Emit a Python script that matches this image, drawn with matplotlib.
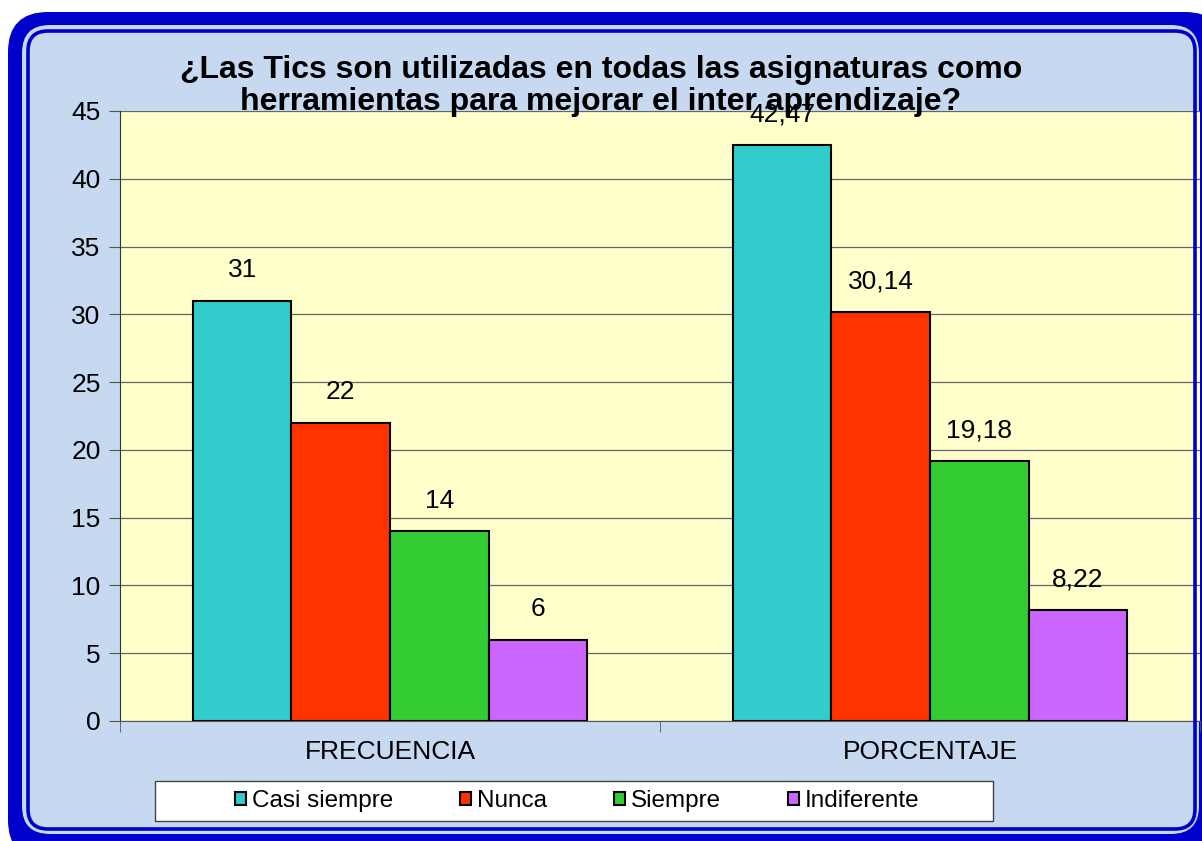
import numpy as np
import matplotlib
matplotlib.use('Agg')
import matplotlib.pyplot as plt
from matplotlib.patches import FancyBboxPatch, Rectangle

plt.rcParams['font.family'] = ['Liberation Sans', 'DejaVu Sans']

# datos
categorias = ['FRECUENCIA', 'PORCENTAJE']
series = ['Casi siempre', 'Nunca', 'Siempre', 'Indiferente']
casi_siempre = [31, 42.47]
nunca = [22, 30.14]
siempre = [14, 19.18]
indiferente = [6, 8.22]
colores = ['#33CCCC', '#FF3300', '#33CC33', '#CC66FF']
titulo = '¿Las Tics son utilizadas en todas las asignaturas como\nherramientas para mejorar el inter aprendizaje?'

W, H = 1202, 841
fig = plt.figure(figsize=(W / 100, H / 100), dpi=100)
fig.patch.set_facecolor('white')
tr = fig.dpi_scale_trans


def caja(x0, y0, x1, y1, r, **kw):
    # coordenadas en pixeles desde arriba-izquierda
    return FancyBboxPatch((x0 / 100, (H - y1) / 100), (x1 - x0) / 100, (y1 - y0) / 100,
                          boxstyle='round,pad=0,rounding_size=%f' % (r / 100),
                          transform=tr, **kw)


fig.add_artist(caja(8, 12, 1225, 860, 40, facecolor='#0000CC', edgecolor='none', zorder=-3))
fig.add_artist(caja(22, 25, 1199, 834, 28, facecolor='#C6D9F0', edgecolor='none', zorder=-2))
fig.add_artist(caja(28, 31, 1195, 829, 20, facecolor='none', edgecolor='#0000CC', linewidth=2.6, zorder=5))

ax = fig.add_axes([120 / W, 1 - 721 / H, 1080 / W, 610 / H])
ax.set_facecolor('#FFFFCC')

x = np.arange(len(categorias))
ancho = 0.1825
valores = [casi_siempre, nunca, siempre, indiferente]
for i, (nombre, vals, c) in enumerate(zip(series, valores, colores)):
    pos = x + (i - 1.5) * ancho
    ax.bar(pos, vals, ancho, color=c, edgecolor='black', linewidth=1.5, label=nombre, zorder=3)
    for p, v in zip(pos, vals):
        txt = ('%g' % v).replace('.', ',')
        ax.annotate(txt, (p, v), xytext=(0, 22), textcoords='offset points',
                    ha='center', va='center', fontsize=19, zorder=4)

ax.set_xlim(-0.5, 1.5)
ax.set_ylim(0, 45)
ax.set_yticks(np.arange(0, 46, 5))
ax.yaxis.grid(True, color='#666666', linewidth=0.9, zorder=0)
ax.set_axisbelow(True)
ax.set_xticks(x)
ax.set_xticklabels(categorias)
ax.set_xticks([-0.5, 0.5, 1.5], minor=True)
ax.tick_params(axis='x', which='major', length=0, pad=14, labelsize=19)
ax.tick_params(axis='x', which='minor', length=8, color='#555555', direction='out')
ax.tick_params(axis='y', length=8, color='#555555', labelsize=19, pad=6)
for s in ['top', 'right']:
    ax.spines[s].set_visible(False)
ax.spines['left'].set_color('#333333')
ax.spines['bottom'].set_color('#555555')

fig.text(601 / W, 1 - 86 / H, titulo, ha='center', va='center', fontsize=23,
         fontweight='bold', linespacing=1.12, zorder=6)

# caja de la leyenda
fig.add_artist(Rectangle((155 / 100, (H - 821) / 100), 838 / 100, 40 / 100, transform=tr,
                         facecolor='white', edgecolor='#444444', linewidth=1.0, zorder=1))
h, l = ax.get_legend_handles_labels()
fig.legend(h, l, loc='center', bbox_to_anchor=(577 / W, 1 - 801 / H), ncol=4, frameon=False,
           fontsize=17.5, handlelength=0.45, handleheight=0.45, handletextpad=0.25,
           columnspacing=2.75).set_zorder(2)

fig.savefig('out.png', dpi=100)
